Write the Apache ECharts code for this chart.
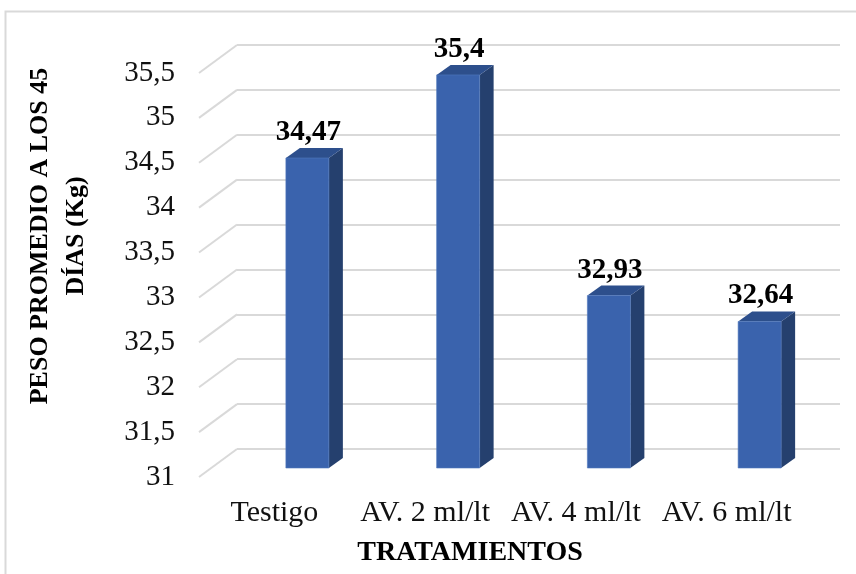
<!DOCTYPE html>
<html>
<head>
<meta charset="utf-8">
<script src="https://cdn.jsdelivr.net/npm/echarts@6/dist/echarts.min.js"></script>
<style>html,body{margin:0;padding:0;background:#fff}#c{width:856px;height:574px}</style>
</head>
<body>
<div id="c"></div>
<script>
var categories = ['Testigo', 'AV. 2 ml/lt', 'AV. 4 ml/lt', 'AV. 6 ml/lt'];
var values = [34.47, 35.4, 32.93, 32.64];
var yTicks = [31, 31.5, 32, 32.5, 33, 33.5, 34, 34.5, 35, 35.5];
var yTitle = 'PESO PROMEDIO A LOS 45\nDÍAS (Kg)';
var xTitle = 'TRATAMIENTOS';

var FONT = '"Liberation Serif", "Times New Roman", serif';
var YMIN = 31, YMAX = 35.5, STEP = 0.5;
var DEPTH_X = 38, DEPTH_Y = 28;
var BAR_W = 43, BAR_DX = 14, BAR_DY = 10;
function fmt(v) { return String(v).replace('.', ','); }

var chart = echarts.init(document.getElementById('c'), null, {renderer: 'canvas'});
var option = {
  animation: false,
  backgroundColor: '#fff',
  grid: [
    {left: 237, top: 45, width: 603, height: 404},
    {left: 199, top: 73, width: 603, height: 404},
    {left: 232, top: 66, width: 603, height: 402}
  ],
  xAxis: [
    {gridIndex: 0, type: 'category', data: categories, show: false},
    {gridIndex: 1, type: 'category', data: categories,
     axisLine: {show: false}, axisTick: {show: false},
     axisLabel: {interval: 0, hideOverlap: false, margin: 21, fontFamily: FONT, fontSize: 30, color: '#111'}},
    {gridIndex: 2, type: 'category', data: categories, show: false}
  ],
  yAxis: [
    {gridIndex: 0, type: 'value', min: YMIN, max: YMAX, interval: STEP,
     axisLine: {show: false}, axisTick: {show: false}, axisLabel: {show: false},
     splitLine: {show: true, lineStyle: {color: '#d9d9d9', width: 2}}},
    {gridIndex: 1, type: 'value', min: YMIN, max: YMAX, interval: STEP,
     axisLine: {show: false}, axisTick: {show: false}, splitLine: {show: false},
     axisLabel: {margin: 24, fontFamily: FONT, fontSize: 29, color: '#111', formatter: function (v) { return fmt(v); }}},
    {gridIndex: 2, type: 'value', min: YMIN, max: YMAX, show: false, splitLine: {show: false}}
  ],
  series: [
    {
      type: 'custom', xAxisIndex: 0, yAxisIndex: 0,
      data: yTicks.map(function (t) { return [0, t]; }),
      silent: true,
      renderItem: function (params, api) {
        var y = api.coord([0, api.value(1)])[1];
        var x = params.coordSys.x;
        return {type: 'line', shape: {x1: x, y1: y, x2: x - DEPTH_X, y2: y + DEPTH_Y},
                style: {stroke: '#d9d9d9', lineWidth: 2}};
      }
    },
    {
      type: 'custom', xAxisIndex: 2, yAxisIndex: 2,
      data: values.map(function (v, i) { return [i, v]; }),
      renderItem: function (params, api) {
        var i = api.value(0), v = api.value(1);
        var top = api.coord([i, v]);
        var base = api.coord([i, YMIN]);
        var x = top[0] - BAR_W / 2, y = top[1], b = base[1];
        return {
          type: 'group',
          children: [
            {type: 'polygon', shape: {points: [[x + BAR_W, y], [x + BAR_W + BAR_DX, y - BAR_DY], [x + BAR_W + BAR_DX, b - BAR_DY], [x + BAR_W, b]]},
             style: {fill: '#25406E'}},
            {type: 'polygon', shape: {points: [[x, y], [x + BAR_DX, y - BAR_DY], [x + BAR_W + BAR_DX, y - BAR_DY], [x + BAR_W, y]]},
             style: {fill: '#2D4F8C'}},
            {type: 'rect', shape: {x: x, y: y, width: BAR_W, height: b - y},
             style: {fill: '#3A63AD', stroke: '#5078bd', lineWidth: 0.6}},
            {type: 'text', style: {text: fmt(v), x: top[0] + 1, y: y - BAR_DY - 1,
              align: 'center', verticalAlign: 'bottom',
              font: 'bold 29px ' + FONT, fill: '#000'}}
          ]
        };
      }
    }
  ],
  graphic: [
    {type: 'rect', shape: {x: 5.5, y: 11.5, width: 900, height: 700}, style: {fill: 'none', stroke: '#d9d9d9', lineWidth: 2}, silent: true},
    {type: 'text', x: 58, y: 236, rotation: Math.PI / 2,
     style: {text: yTitle, align: 'center', verticalAlign: 'middle', font: 'bold 26px ' + FONT, fill: '#000', lineHeight: 36}},
    {type: 'text', x: 470, y: 553,
     style: {text: xTitle, align: 'center', verticalAlign: 'middle', font: 'bold 28px ' + FONT, fill: '#000'}}
  ]
};
chart.setOption(option);
</script>
</body>
</html>
